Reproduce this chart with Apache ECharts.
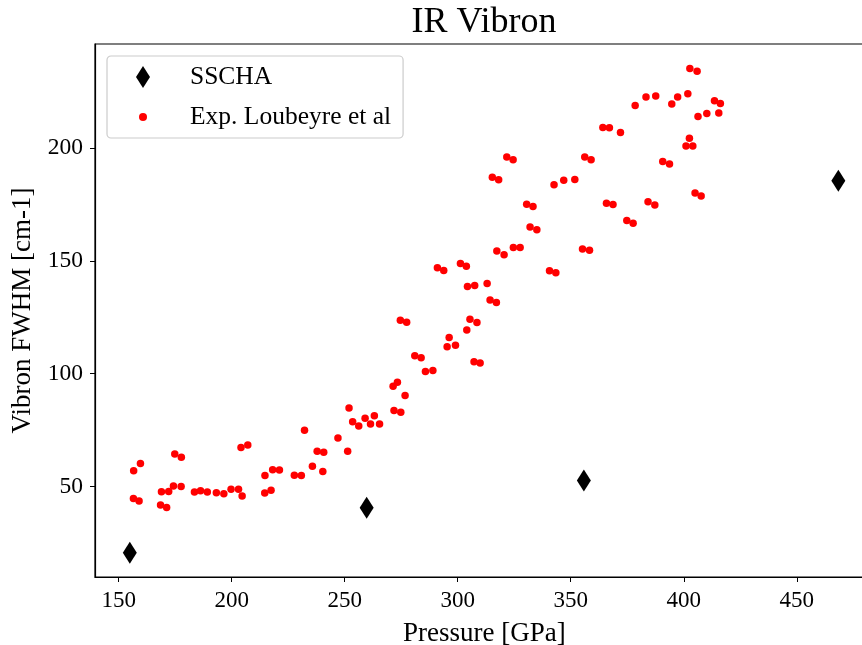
<!DOCTYPE html>
<html>
<head>
<meta charset="utf-8">
<script src="https://cdn.jsdelivr.net/npm/echarts@6/dist/echarts.min.js"></script>
<style>html,body{margin:0;padding:0;background:#fff}#c{width:862px;height:645px}</style>
</head>
<body>
<div id="c"></div>
<script>
// SSCHA calculations
const sschaP = [154.9, 259.7, 355.8, 468.4];
const sschaW = [20.7, 40.7, 52.7, 185.4];
// Experimental data (Loubeyre et al)
const expP = [156.6,159.6,156.5,159.0,168.5,171.2,168.9,172.1,174.2,177.6,174.8,177.7,183.5,186.2,189.2,193.2,196.5,199.7,203.0,204.6,204.1,207.1,214.6,217.4,214.7,218.1,221.1,227.7,230.8,232.2,235.7,237.8,240.7,240.3,247.0,251.3,251.9,253.5,256.2,259.0,261.4,263.1,265.4,271.8,274.8,276.7,271.4,273.3,274.6,277.4,281.0,283.8,285.7,289.0,291.0,293.8,295.3,296.2,299.0,301.2,303.8,304.0,304.3,305.4,307.2,307.5,308.5,309.9,313.0,314.3,317.1,315.3,318.1,317.3,320.5,321.7,324.5,324.6,327.6,330.5,333.3,332.0,335.0,340.6,343.4,342.6,346.9,351.8,355.2,358.3,356.2,359.0,364.2,367.1,365.8,368.7,372.0,374.8,377.6,378.5,383.3,387.6,384.2,387.2,390.7,393.7,394.7,397.3,401.8,402.7,405.9,402.5,401.0,404.0,405.0,407.7,406.3,410.2,413.6,416.2,415.5];
const expW = [57.1,60.2,44.8,43.7,41.9,40.8,47.8,47.9,50.3,50.1,64.5,63.0,47.6,48.2,47.6,47.3,46.9,48.8,48.8,45.9,67.3,68.5,47.2,48.4,54.9,57.5,57.4,55.0,54.9,75.0,59.0,65.7,65.2,56.7,71.6,65.7,84.8,78.7,76.9,80.3,77.7,81.4,77.7,83.7,83.0,90.4,94.5,96.2,123.7,122.8,108.0,107.1,101.0,101.4,146.9,145.7,112.0,116.1,112.6,148.8,147.6,119.4,138.6,124.1,105.3,139.1,122.7,104.7,140.0,132.7,131.5,187.0,185.9,154.3,152.7,196.0,194.8,155.9,155.9,175.0,174.0,165.0,163.8,145.6,144.7,183.7,185.7,186.0,155.2,154.7,196.0,194.8,209.0,208.9,175.5,174.9,206.8,167.8,166.6,218.8,222.5,223.0,176.1,174.7,194.0,192.9,219.4,222.5,224.0,235.2,233.9,204.3,200.8,200.8,180.0,178.7,213.9,215.2,220.9,219.7,215.4];
const xTicks = [150, 200, 250, 300, 350, 400, 450];
const yTicks = [50, 100, 150, 200];

const FONT = '"Liberation Serif", "DejaVu Serif", serif';
const svgIcon = (body) => 'image://data:image/svg+xml;charset=utf-8,' + encodeURIComponent(
  '<svg xmlns="http://www.w3.org/2000/svg" width="30" height="24" viewBox="0 0 30 24">' + body + '</svg>');
const diamondIcon = svgIcon('<polygon points="15,1 22,12 15,23 8,12" fill="#000"/>');
const dotIcon = svgIcon('<circle cx="15" cy="12" r="4" fill="#ff0000"/>');

const chart = echarts.init(document.getElementById('c'), null, {renderer: 'canvas'});
const axisCommon = {
  axisLine: {show: true, onZero: false, lineStyle: {color: '#000', width: 1.2}},
  splitLine: {show: false},
  nameLocation: 'middle',
  nameTextStyle: {fontFamily: FONT, fontSize: 27, color: '#000'}
};
const tickStyle = {show: true, inside: false, length: 5, lineStyle: {color: '#000', width: 1}};
chart.setOption({
  animation: false,
  backgroundColor: '#fff',
  title: {
    text: 'IR Vibron', left: 479, top: 0, textAlign: 'center',
    textStyle: {fontFamily: FONT, fontSize: 36, fontWeight: 'normal', color: '#000'}
  },
  grid: {left: 95, top: 44, width: 778.6, height: 533, show: true, borderColor: '#000', borderWidth: 1.2,
         containLabel: false, outerBoundsMode: 'none'},
  legend: {
    orient: 'vertical', left: 107, top: 56,
    padding: [8, 12, 8, 21], itemGap: 14,
    itemWidth: 30, itemHeight: 24,
    backgroundColor: '#fff', borderColor: '#ccc', borderWidth: 1.2, borderRadius: 4,
    textStyle: {fontFamily: FONT, fontSize: 25.5, color: '#000', padding: [0, 0, 0, 27]},
    data: [
      {name: 'SSCHA', icon: diamondIcon},
      {name: 'Exp. Loubeyre et al', icon: dotIcon}
    ]
  },
  xAxis: Object.assign({}, axisCommon, {
    type: 'value', min: 139.5, max: 484, name: 'Pressure [GPa]', nameGap: 43,
    axisLabel: {fontFamily: FONT, fontSize: 23, color: '#000', margin: 12, customValues: xTicks},
    axisTick: Object.assign({}, tickStyle, {customValues: xTicks})
  }),
  yAxis: Object.assign({}, axisCommon, {
    type: 'value', min: 10, max: 246, name: 'Vibron FWHM [cm-1]', nameGap: 51,
    axisLabel: {fontFamily: FONT, fontSize: 23.5, color: '#000', margin: 12, customValues: yTicks},
    axisTick: Object.assign({}, tickStyle, {customValues: yTicks})
  }),
  series: [
    {
      name: 'SSCHA', type: 'scatter', symbol: 'diamond', symbolSize: [14, 22],
      itemStyle: {color: '#000', opacity: 1}, z: 3,
      data: sschaP.map((p, i) => [p, sschaW[i]])
    },
    {
      name: 'Exp. Loubeyre et al', type: 'scatter', symbol: 'circle', symbolSize: 7.5,
      itemStyle: {color: '#ff0000', opacity: 1}, z: 2,
      data: expP.map((p, i) => [p, expW[i]])
    }
  ]
});
</script>
</body>
</html>
